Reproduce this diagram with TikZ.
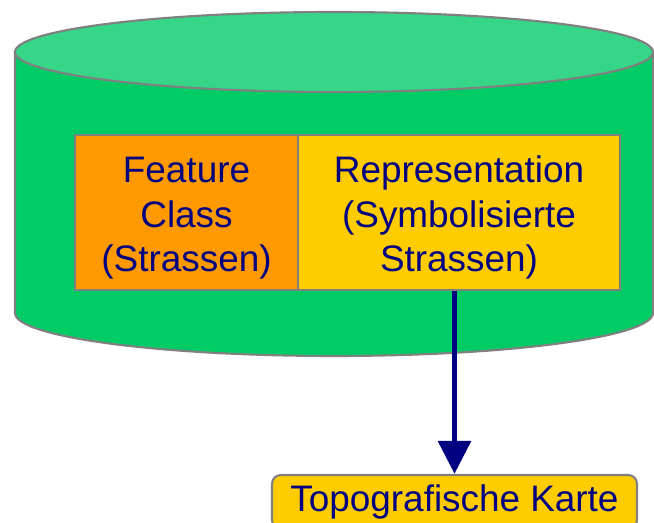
\documentclass[tikz,border=0pt]{standalone}
\usepackage{fontspec}
\setmainfont{Liberation Sans}
\usepackage{tikz}
\usetikzlibrary{arrows.meta}
\definecolor{dbbody}{RGB}{0,204,102}
\definecolor{dbtop}{RGB}{53,214,135}
\definecolor{fcorange}{RGB}{255,153,0}
\definecolor{repyellow}{RGB}{255,204,0}
\definecolor{txtnavy}{RGB}{0,0,128}
\definecolor{edgegray}{RGB}{128,128,128}
\tikzset{>=latex}
\tikzset{
  cell/.style={draw=edgegray, line width=1.2pt, align=center, text=txtnavy,
    font=\fontsize{21}{25.2}\selectfont, inner sep=0pt, minimum height=3.1cm},
  flow/.style={draw=txtnavy, line width=3.4pt, -{Triangle[width=0.64cm,length=0.66cm]}}
}

\begin{document}
\begin{tikzpicture}[x=0.02cm, y=0.02cm]
      \useasboundingbox (0,0) rectangle (654,523);
      % database cylinder
      \filldraw[fill=dbbody, draw=edgegray, line width=1.2pt] (15,471) -- (15,210)
            arc[start angle=180, end angle=360, x radius=319, y radius=43] -- (653,471) -- cycle;
      \filldraw[fill=dbtop, draw=edgegray, line width=1.2pt] (334,471) ellipse [x radius=319, y radius=40];

	  \node (feat) at (186.5,310.5) [cell, fill=fcorange, minimum width=4.46cm] {\rule{0pt}{21pt}Feature\\Class\\(Strassen)};
	  \node (rep) at (459,310.5) [cell, fill=repyellow, minimum width=6.44cm] {\rule{0pt}{21pt}Representation\\(Symbolisierte\\Strassen)};

      \node (karte) at (454.5,21) [cell, fill=repyellow, rounded corners=5pt,
            minimum width=7.3cm, minimum height=1.08cm] {Topografische Karte};

      \draw[flow] (karte.north |- rep.south) -- (karte.north);
\end{tikzpicture}
\end{document}
